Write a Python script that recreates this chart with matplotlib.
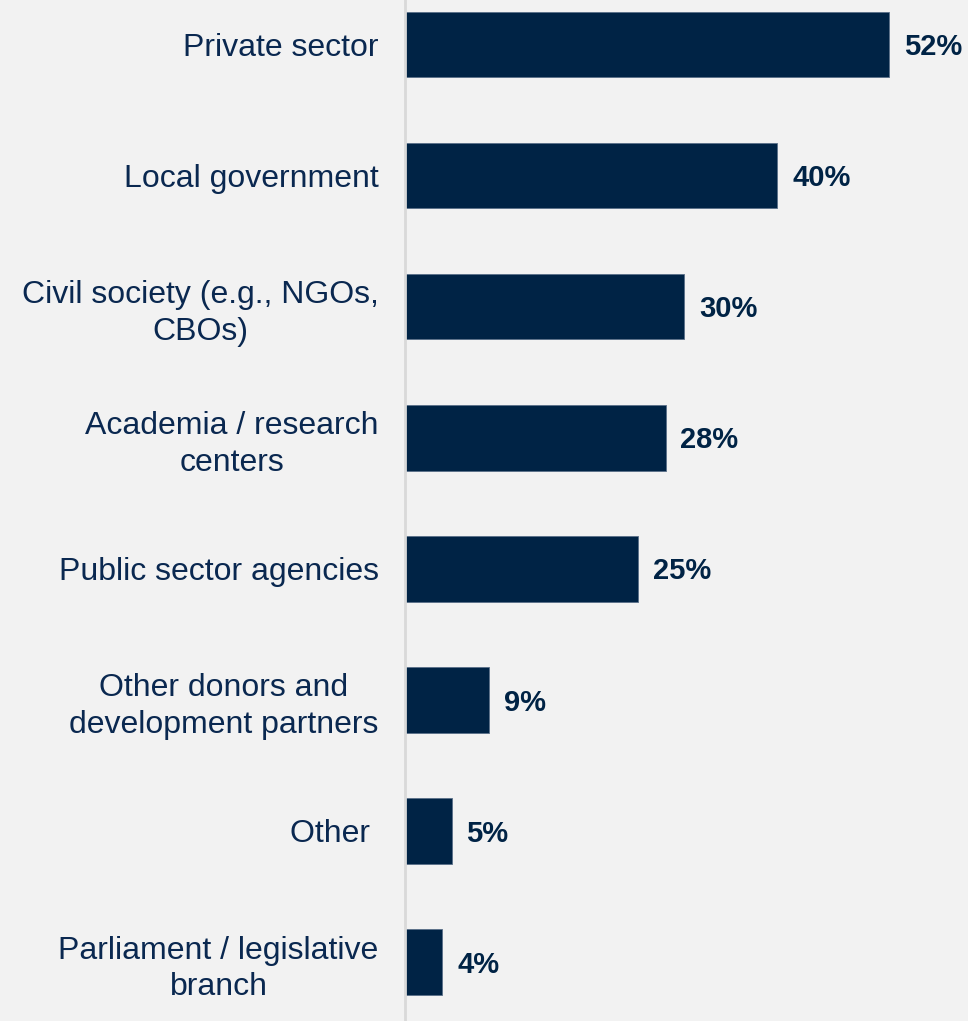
import matplotlib
matplotlib.use("Agg")
import matplotlib.pyplot as plt

categories = [
    "Private sector",
    "Local government",
    "Civil society (e.g., NGOs,\nCBOs)",
    "Academia / research\ncenters",
    "Public sector agencies",
    "Other donors and\ndevelopment partners",
    "Other ",
    "Parliament / legislative\nbranch",
]
values = [52, 40, 30, 28, 25, 9, 5, 4]

bg = "#f2f2f2"
navy = "#002345"

plt.rcParams["font.family"] = ["Liberation Sans", "DejaVu Sans"]

fig = plt.figure(figsize=(9.68, 10.21), dpi=100, facecolor=bg)
ax = fig.add_axes([405 / 968, 0, 1 - 405 / 968, 1])
ax.set_facecolor(bg)

y = list(range(len(categories)))
ax.barh(y, values, height=0.5, color=navy, edgecolor="#5a6f88", linewidth=0.6)

for yi, v in zip(y, values):
    ax.text(v + 1.6, yi + 0.02, f"{v}%", va="center", ha="left",
            fontsize=21, fontweight="bold", color=navy)

ax.set_xlim(0, 60.5)
ax.set_ylim(7.45, -0.34)
ax.set_yticks(y)
ax.set_yticklabels(categories, fontsize=23, color="#0a2850", linespacing=1.28)
ax.tick_params(axis="y", length=0, pad=19)
for lbl in ax.get_yticklabels():
    lbl.set_horizontalalignment("right")
    lbl.set_multialignment("center")
ax.set_xticks([])

for s in ["top", "right", "bottom"]:
    ax.spines[s].set_visible(False)
ax.spines["left"].set_color("#d9d9d9")
ax.spines["left"].set_linewidth(2)

fig.savefig("out.png", dpi=100, facecolor=bg)
